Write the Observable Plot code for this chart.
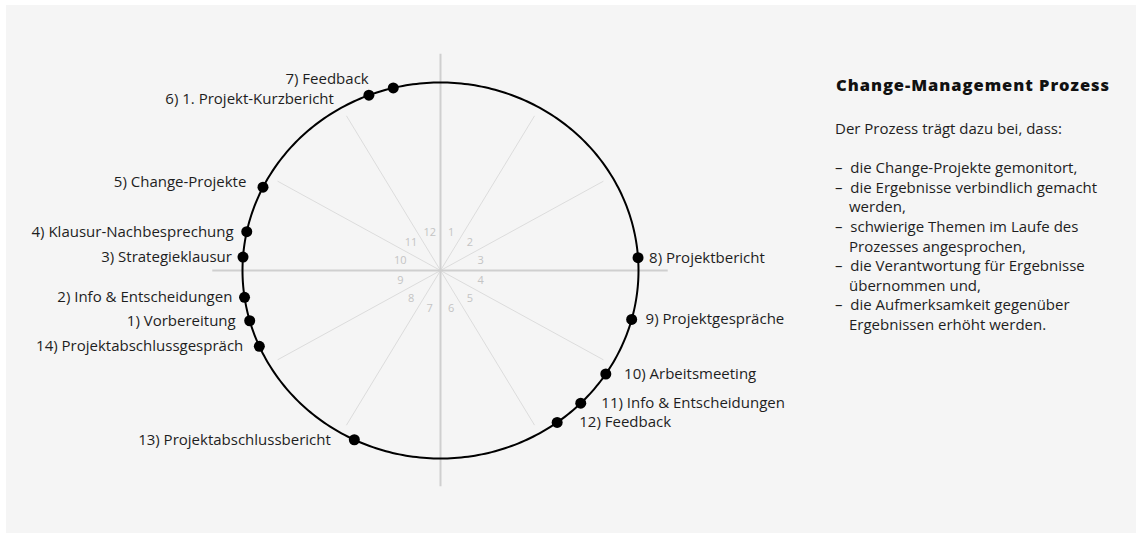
<!DOCTYPE html>
<html><head><meta charset="utf-8">
<script src="https://cdn.jsdelivr.net/npm/d3@7"></script>
<script src="https://cdn.jsdelivr.net/npm/@observablehq/plot@0.6"></script>
<style>
html,body{margin:0;padding:0;background:#fff;}
#panel{position:absolute;left:6px;top:5px;width:1130px;height:528px;background:#f5f5f5;font-family:"Open Sans",sans-serif;color:#1e1e1e;overflow:hidden;}
#chart{position:absolute;left:0;top:0;}
#side{position:absolute;left:829px;top:70px;width:300px;font-size:15px;}
#side .title{font-weight:800;font-size:16.5px;line-height:20px;margin:0 0 0 1px;letter-spacing:0.95px;color:#111;}
#side p{margin:23.5px 0 0 0;line-height:19.6px;}
#side ul{list-style:none;margin:20.1px 0 0 0;padding:0;line-height:19.6px;}
#side li{padding-left:14px;text-indent:-14px;}
</style>
</head><body>
<div id="panel">
  <div id="chart"></div>
  <div id="side">
    <div class="title">Change-Management Prozess</div>
    <p>Der Prozess trägt dazu bei, dass:</p>
    <ul>
      <li>–&nbsp; die Change-Projekte gemonitort,</li>
      <li>–&nbsp; die Ergebnisse verbindlich gemacht<br>werden,</li>
      <li>–&nbsp; schwierige Themen im Laufe des<br>Prozesses angesprochen,</li>
      <li>–&nbsp; die Verantwortung für Ergebnisse<br>übernommen und,</li>
      <li>–&nbsp; die Aufmerksamkeit gegenüber<br>Ergebnissen erhöht werden.</li>
    </ul>
  </div>
</div>
<script>
// Steps of the process and their angle on the cycle (degrees, clockwise from top)
const stepLabels = [
  "1) Vorbereitung",
  "2) Info & Entscheidungen",
  "3) Strategieklausur",
  "4) Klausur-Nachbesprechung",
  "5) Change-Projekte",
  "6) 1. Projekt-Kurzbericht",
  "7) Feedback",
  "8) Projektbericht",
  "9) Projektgespräche",
  "10) Arbeitsmeeting",
  "11) Info & Entscheidungen",
  "12) Feedback",
  "13) Projektabschlussbericht",
  "14) Projektabschlussgespräch"
];
const stepAngles = [254.5, 261.8, 274.1, 281.9, 296.3, 338.8, 346.2, 86.1, 105.1, 123.4, 134.9, 143.9, 205.8, 246.2];
const sectorLabels = ["1","2","3","4","5","6","7","8","9","10","11","12"];

// layout helpers (pixel geometry, not data)
const PX = 198, PY = 188;              // pixels per unit on x and y
const labelNudge = {4: [0, -5], 5: [-11, 4], 6: [0, -9]}; // index -> [dx px, dy px]

const rad = a => a * Math.PI / 180;
const steps = stepLabels.map((label, i) => {
  const a = rad(stepAngles[i]);
  const x = Math.sin(a), y = Math.cos(a);
  const side = x < 0 ? -1 : 1;
  const off = 10 + 15 * Math.abs(y);
  const [nx, ny] = labelNudge[i] || [0, 0];
  return {label, x, y, side, lx: x + (side * off + nx) / PX, ly: y - ny / PY};
});
const ring = d3.range(0, 361, 1).map(a => ({x: Math.sin(rad(a)), y: Math.cos(rad(a))}));
const spokes = d3.range(30, 360, 30).filter(a => a % 90 !== 0)
  .map(a => ({x: 0.95 * Math.sin(rad(a)), y: 0.95 * Math.cos(rad(a))}));
const sectors = sectorLabels.map((t, i) => ({t, x: 0.21 * Math.sin(rad(15 + 30 * i)), y: 0.21 * Math.cos(rad(15 + 30 * i))}));

const cx = 434, cy = 265;
const chart = Plot.plot({
  width: 826,
  height: 528,
  x: {domain: [-1, 1], range: [cx - PX, cx + PX], axis: null},
  y: {domain: [-1, 1], range: [cy + PY, cy - PY], axis: null},
  style: {background: "transparent", fontFamily: "'Open Sans', sans-serif", fontSize: "15px", color: "#1e1e1e"},
  marks: [
    Plot.link(spokes, {x1: 0, y1: 0, x2: "x", y2: "y", stroke: "#dcdcdc", strokeWidth: 1}),
    Plot.ruleY([0], {x1: -1.15, x2: 1.15, stroke: "#cfcfcf", strokeWidth: 2}),
    Plot.ruleX([0], {y1: -1.15, y2: 1.15, stroke: "#cfcfcf", strokeWidth: 2}),
    Plot.text(sectors, {x: "x", y: "y", text: "t", fill: "#c4c4c4", fontSize: 11}),
    Plot.line(ring, {x: "x", y: "y", stroke: "#000", strokeWidth: 2}),
    Plot.dot(steps, {x: "x", y: "y", r: 5.5, fill: "#000"}),
    Plot.text(steps.filter(d => d.side < 0), {x: "lx", y: "ly", text: "label", textAnchor: "end", fill: "#1e1e1e", fontSize: 15}),
    Plot.text(steps.filter(d => d.side > 0), {x: "lx", y: "ly", text: "label", textAnchor: "start", fill: "#1e1e1e", fontSize: 15})
  ]
});
document.getElementById("chart").appendChild(chart);
</script>
</body></html>
